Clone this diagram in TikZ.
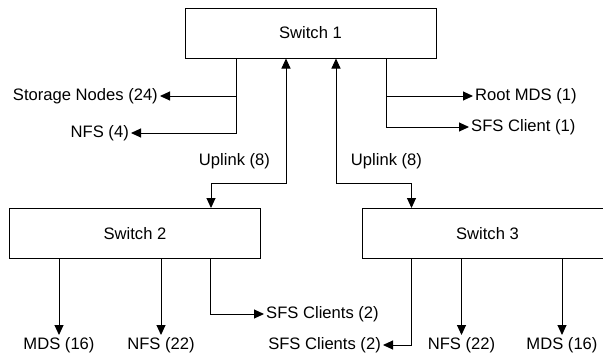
\documentclass[tikz,border=0pt]{standalone}
\usepackage{fontspec}
\setmainfont{Liberation Sans}
\usetikzlibrary{arrows.meta}
\begin{document}
\begin{tikzpicture}[x=1pt,y=-1pt,
  sw/.style={draw, line width=1pt, minimum width=251pt, minimum height=50pt, inner sep=0pt, font=\fontsize{16.6}{19}\selectfont},
  lbl/.style={inner sep=2pt, font=\fontsize{16.6}{19}\selectfont},
  conn/.style={line width=1pt, -{Triangle[length=10pt,width=9pt]}},
  bidir/.style={line width=1pt, {Triangle[length=10pt,width=9pt]}-{Triangle[length=10pt,width=9pt]}}]
\clip (0,0) rectangle (603,360);
\node[sw] (s1) at (310.5,33) {Switch 1};
\node[sw] (s2) at (135,233.5) {Switch 2};
\node[sw] (s3) at (487.5,233.5) {Switch 3};

\node[lbl, anchor=east] (stor) at (160,96) {Storage Nodes (24)};
\node[lbl, anchor=east] (nfsa) at (131,133) {NFS (4)};
\node[lbl, anchor=west] (root) at (473,96) {Root MDS (1)};
\node[lbl, anchor=west] (sfsa) at (469,127) {SFS Client (1)};
\node[lbl] (upl) at (234.5,161) {Uplink (8)};
\node[lbl] (upr) at (386.5,161) {Uplink (8)};
\node[lbl, anchor=north] (mdsa) at (59,335) {MDS (16)};
\node[lbl, anchor=north] (nfsb) at (161,335) {NFS (22)};
\node[lbl, anchor=west] (sfsb) at (264,314) {SFS Clients (2)};
\node[lbl, anchor=east] (sfsc) at (383,345) {SFS Clients (2)};
\node[lbl, anchor=north] (nfsc) at (461.5,335) {NFS (22)};
\node[lbl, anchor=north] (mdsb) at (562,335) {MDS (16)};

\coordinate (xa) at (236,0);
\coordinate (xb) at (386,0);
\coordinate (xe) at (210,0);
\coordinate (xf) at (411.5,0);
\coordinate (ka) at (286,183);
\coordinate (kb) at (211,183);
\coordinate (kc) at (336,183);
\coordinate (kd) at (411.5,183);

\draw[conn] (s1.south -| xa) |- (stor.east);
\draw[conn] (s1.south -| xa) |- (nfsa.east);
\draw[conn] (s1.south -| xb) |- (root.west);
\draw[conn] (s1.south -| xb) |- (sfsa.west);

\draw[bidir] (s1.south -| ka) -- (ka) -- (kb) -- (s2.north -| kb);
\draw[bidir] (s1.south -| kc) -- (kc) -- (kd) -- (s3.north -| kd);

\draw[conn] (s2.south -| mdsa) -- (mdsa.north);
\draw[conn] (s2.south -| nfsb) -- (nfsb.north);
\draw[conn] (s2.south -| xe) |- (sfsb.west);

\draw[conn] (s3.south -| xf) |- (sfsc.east);
\draw[conn] (s3.south -| nfsc) -- (nfsc.north);
\draw[conn] (s3.south -| mdsb) -- (mdsb.north);
\end{tikzpicture}
\end{document}
